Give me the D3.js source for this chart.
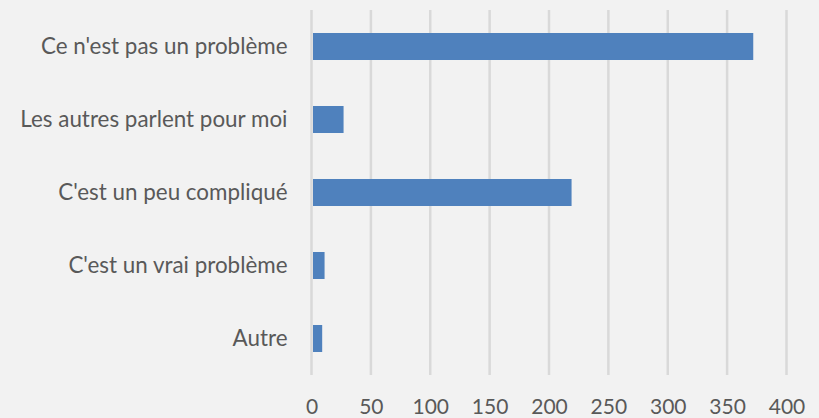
<!DOCTYPE html>
<html>
<head>
<meta charset="utf-8">
<script src="https://cdn.jsdelivr.net/npm/d3@7"></script>
<style>
  html, body { margin: 0; padding: 0; background: #f2f2f2; }
  svg { display: block; }
  text { font-family: Lato, "Open Sans", sans-serif; fill: #595959; }
</style>
</head>
<body>
<svg id="chart" width="819" height="418"></svg>
<script>
// Responses, top to bottom
const categories = [
  "Ce n'est pas un problème",
  "Les autres parlent pour moi",
  "C'est un peu compliqué",
  "C'est un vrai problème",
  "Autre"
];
const counts = [372, 27, 219, 11, 9];
const tickValues = [0, 50, 100, 150, 200, 250, 300, 350, 400];

const svg = d3.select("#chart");
const plot = { left: 311.5, right: 786.5, top: 10, bottom: 375 };

const x = d3.scaleLinear().domain([0, 400]).range([plot.left, plot.right]);
const y = d3.scaleBand().domain(categories).range([plot.top, plot.bottom])
  .paddingInner(0.63).paddingOuter(0.315);

// Vertical gridlines
svg.append("g")
  .selectAll("line")
  .data(tickValues)
  .join("line")
  .attr("x1", d => x(d)).attr("x2", d => x(d))
  .attr("y1", plot.top).attr("y2", plot.bottom)
  .attr("stroke", "#d9d9d9")
  .attr("stroke-width", 2.5);

// Bars
svg.append("g")
  .selectAll("rect")
  .data(categories.map((c, i) => ({ c, v: counts[i] })))
  .join("rect")
  .attr("x", x(0) + 1.5)
  .attr("y", d => y(d.c))
  .attr("width", d => x(d.v) - x(0) - 1.5)
  .attr("height", y.bandwidth())
  .attr("fill", "#4f81bd");

// Value axis labels
const xAxis = svg.append("g")
  .attr("transform", `translate(0,${plot.bottom})`)
  .call(d3.axisBottom(x).tickValues(tickValues).tickSize(0).tickPadding(0));
xAxis.select(".domain").remove();
xAxis.selectAll("text")
  .attr("dy", null)
  .attr("y", 39)
  .style("font-size", "21px")
  .attr("fill", "#595959");

// Category labels
const yAxis = svg.append("g")
  .attr("transform", `translate(${plot.left},0)`)
  .call(d3.axisLeft(y).tickSize(0).tickPadding(24));
yAxis.select(".domain").remove();
yAxis.selectAll("text")
  .style("font-size", "22.4px")
  .attr("fill", "#595959");
</script>
</body>
</html>
